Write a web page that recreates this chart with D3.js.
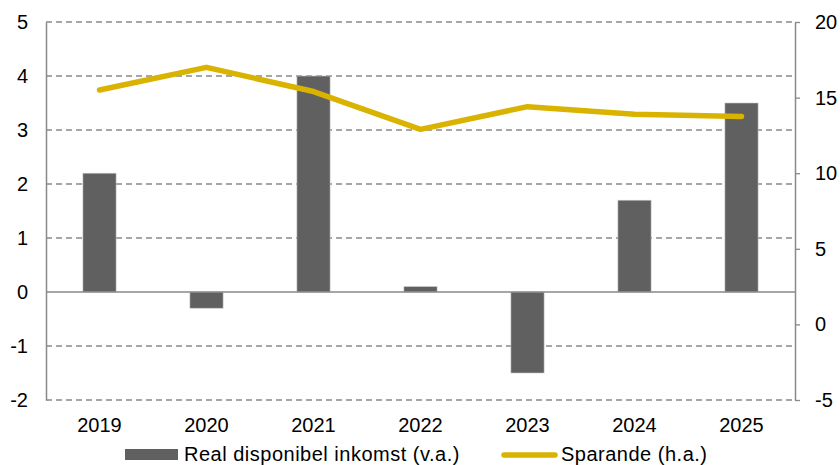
<!DOCTYPE html>
<html>
<head>
<meta charset="utf-8">
<script src="https://cdn.jsdelivr.net/npm/d3@7"></script>
<style>
  html, body { margin: 0; padding: 0; background: #fff; }
  svg text { font-family: "Liberation Sans", Arial, sans-serif; fill: #000; }
</style>
</head>
<body>
<svg id="chart" width="840" height="465"></svg>
<script>
// Årtal, real disponibel inkomst (%, vänster axel) och sparkvot (%, höger axel)
const years = ["2019", "2020", "2021", "2022", "2023", "2024", "2025"];
const inkomst = [2.2, -0.3, 4.0, 0.1, -1.5, 1.7, 3.5];
const sparande = [15.5, 17.0, 15.4, 12.9, 14.4, 13.9, 13.75];
const leftTicks = [-2, -1, 0, 1, 2, 3, 4, 5];
const rightTicks = [-5, 0, 5, 10, 15, 20];
const seriesNames = ["Real disponibel inkomst (v.a.)", "Sparande (h.a.)"];

const barColor = "#606060";
const lineColor = "#D9B300";
const axisColor = "#898989";
const fontSize = "20px";
const fontFamily = "'Liberation Sans', Arial, sans-serif";
const fmt = d => String(d); // bindestreck som minustecken

const svg = d3.select("#chart");
const m = { left: 46, right: 795, top: 22, bottom: 400 };

const x = d3.scaleBand().domain(years).range([m.left, m.right]).paddingInner(0.69).paddingOuter(0.345);
const xc = d3.scaleBand().domain(years).range([m.left, m.right]);
const yL = d3.scaleLinear().domain([-2, 5]).range([m.bottom, m.top]);
const yR = d3.scaleLinear().domain([-5, 20]).range([m.bottom, m.top]);

// Stödlinjer (streckade)
svg.append("g")
  .selectAll("line")
  .data(leftTicks.filter(d => d !== 0))
  .join("line")
  .attr("x1", m.left).attr("x2", m.right)
  .attr("y1", d => yL(d)).attr("y2", d => yL(d))
  .attr("stroke", axisColor).attr("stroke-width", 1.3)
  .attr("stroke-dasharray", "6,4");

// Staplar
svg.append("g")
  .selectAll("rect")
  .data(inkomst)
  .join("rect")
  .attr("x", (d, i) => x(years[i]))
  .attr("width", x.bandwidth())
  .attr("y", d => yL(Math.max(0, d)))
  .attr("height", d => Math.abs(yL(d) - yL(0)))
  .attr("fill", barColor)
  .attr("stroke", "#c8c8c8").attr("stroke-width", 0.6);

// Nollinje
svg.append("line")
  .attr("x1", m.left).attr("x2", m.right)
  .attr("y1", yL(0)).attr("y2", yL(0))
  .attr("stroke", axisColor).attr("stroke-width", 1.5);

// Vänster axel
const gL = svg.append("g").attr("transform", `translate(${m.left},0)`)
  .call(d3.axisLeft(yL).tickValues(leftTicks).tickSize(0).tickPadding(18).tickFormat(fmt));
gL.select(".domain").attr("stroke", axisColor).attr("stroke-width", 1.5);
gL.selectAll("text").style("font-size", fontSize).style("font-family", fontFamily);

// Höger axel
const gR = svg.append("g").attr("transform", `translate(${m.right},0)`)
  .call(d3.axisRight(yR).tickValues(rightTicks).tickSizeInner(5).tickSizeOuter(0).tickPadding(15).tickFormat(fmt));
gR.select(".domain").attr("stroke", axisColor).attr("stroke-width", 1.5);
gR.selectAll(".tick line").attr("stroke", axisColor).attr("stroke-width", 1.3);
gR.selectAll("text").style("font-size", fontSize).style("font-family", fontFamily);

// Kategoriaxel (endast etiketter)
const gX = svg.append("g").attr("transform", `translate(0,${m.bottom})`)
  .call(d3.axisBottom(xc).tickSize(0).tickPadding(18));
gX.select(".domain").remove();
gX.selectAll("text").style("font-size", fontSize).style("font-family", fontFamily);

// Sparlinje
const line = d3.line()
  .x((d, i) => xc(years[i]) + xc.bandwidth() / 2)
  .y(d => yR(d));
svg.append("path")
  .datum(sparande)
  .attr("d", line)
  .attr("fill", "none")
  .attr("stroke", lineColor)
  .attr("stroke-width", 5.5)
  .attr("stroke-linecap", "round")
  .attr("stroke-linejoin", "round");

// Teckenförklaring
const lg = svg.append("g").style("font-size", fontSize).style("font-family", fontFamily)
  .style("letter-spacing", "0.5px");
lg.append("rect").attr("x", 125).attr("y", 449).attr("width", 53).attr("height", 11).attr("fill", barColor);
lg.append("text").attr("x", 184).attr("y", 461).text(seriesNames[0]);
lg.append("line").attr("x1", 504).attr("x2", 555).attr("y1", 455).attr("y2", 455)
  .attr("stroke", lineColor).attr("stroke-width", 5.5).attr("stroke-linecap", "round");
lg.append("text").attr("x", 561).attr("y", 461).text(seriesNames[1]);
</script>
</body>
</html>
